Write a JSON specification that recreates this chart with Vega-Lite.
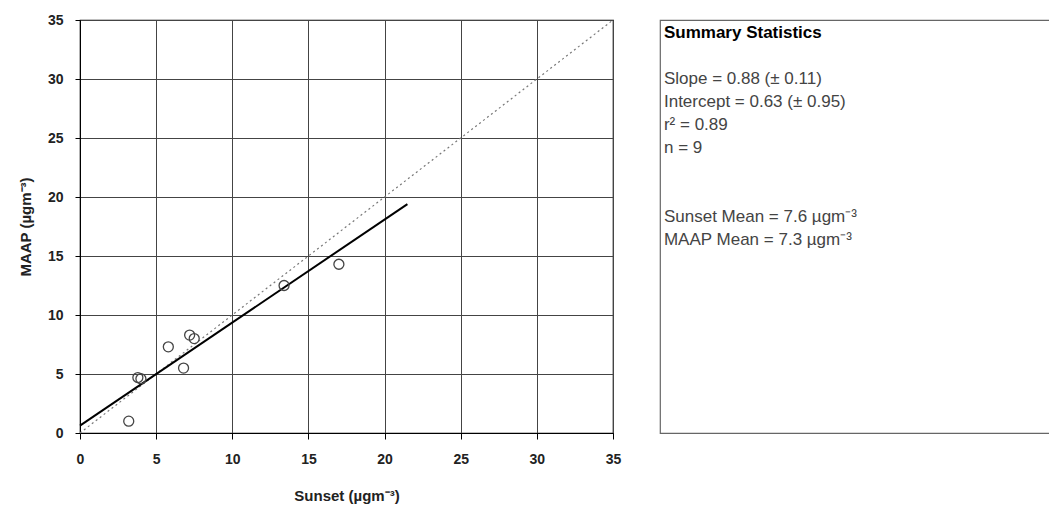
{
  "$schema": "https://vega.github.io/schema/vega-lite/v6.json",
  "background": "white",
  "padding": {"left": 17, "top": 12, "right": 0, "bottom": 0},
  "config": {
    "font": "Liberation Sans",
    "concat": {"spacing": 37},
    "axis": {
      "labelFont": "Liberation Sans",
      "labelFontSize": 14,
      "labelFontWeight": "bold",
      "labelColor": "#222",
      "titleFont": "Liberation Sans",
      "titleFontSize": 15,
      "titleFontWeight": "bold",
      "titleColor": "#222",
      "domainColor": "#000",
      "tickColor": "#000",
      "gridColor": "#444",
      "gridWidth": 1,
      "gridOpacity": 1
    }
  },
  "datasets": {
    "points": [
      {"sunset": 3.2, "maap": 1.0},
      {"sunset": 3.8, "maap": 4.7},
      {"sunset": 4.0, "maap": 4.6},
      {"sunset": 5.8, "maap": 7.3},
      {"sunset": 6.8, "maap": 5.5},
      {"sunset": 7.2, "maap": 8.3},
      {"sunset": 7.5, "maap": 8.0},
      {"sunset": 13.4, "maap": 12.5},
      {"sunset": 17.0, "maap": 14.3}
    ],
    "fit": [
      {"sunset": 0, "maap": 0.63},
      {"sunset": 21.5, "maap": 19.4}
    ],
    "oneToOne": [
      {"sunset": 0, "maap": 0},
      {"sunset": 35, "maap": 35}
    ],
    "stats": [
      {"line": 1, "label": "Summary Statistics", "kind": "title"},
      {"line": 3, "label": "Slope = 0.88 (± 0.11)", "kind": "body"},
      {"line": 4, "label": "Intercept = 0.63 (± 0.95)", "kind": "body"},
      {"line": 5, "label": "r² = 0.89", "kind": "body"},
      {"line": 6, "label": "n = 9", "kind": "body"},
      {"line": 9, "label": "Sunset Mean = 7.6 µgm⁻³", "kind": "body"},
      {"line": 10, "label": "MAAP Mean = 7.3 µgm⁻³", "kind": "body"}
    ]
  },
  "hconcat": [
    {
      "width": 533,
      "height": 413,
      "view": {"stroke": "#000", "strokeWidth": 1.2},
      "encoding": {
        "x": {
          "field": "sunset",
          "type": "quantitative",
          "scale": {"domain": [0, 35], "nice": false, "zero": false},
          "axis": {
            "title": "Sunset (µgm⁻³)",
            "values": [0, 5, 10, 15, 20, 25, 30, 35],
            "tickSize": 6,
            "labelPadding": 13,
            "titlePadding": 22,
            "labelFlush": false
          }
        },
        "y": {
          "field": "maap",
          "type": "quantitative",
          "scale": {"domain": [0, 35], "nice": false, "zero": false},
          "axis": {
            "title": "MAAP (µgm⁻³)",
            "values": [0, 5, 10, 15, 20, 25, 30, 35],
            "tickSize": 5,
            "labelPadding": 12,
            "titlePadding": 14,
            "labelFlush": false
          }
        }
      },
      "layer": [
        {
          "data": {"name": "oneToOne"},
          "mark": {"type": "line", "color": "#777", "strokeDash": [2, 3], "strokeWidth": 1.2}
        },
        {
          "data": {"name": "fit"},
          "mark": {"type": "line", "color": "#000", "strokeWidth": 2}
        },
        {
          "data": {"name": "points"},
          "mark": {"type": "point", "shape": "circle", "filled": false, "size": 100, "color": "#444", "strokeWidth": 1.3, "opacity": 1}
        }
      ]
    },
    {
      "width": 400,
      "height": 413,
      "view": {"stroke": "#666", "strokeWidth": 1.2},
      "data": {"name": "stats"},
      "encoding": {
        "x": {"datum": 0, "type": "quantitative", "scale": {"domain": [-1, 100]}, "axis": null},
        "y": {"field": "line", "type": "quantitative", "scale": {"domain": [0.43, 18.43], "reverse": true, "nice": false, "zero": false}, "axis": null},
        "text": {"field": "label", "type": "nominal"}
      },
      "layer": [
        {
          "transform": [{"filter": "datum.kind === 'title'"}],
          "mark": {"type": "text", "align": "left", "baseline": "middle", "font": "Liberation Sans", "fontSize": 17, "fontWeight": "bold", "color": "#000"}
        },
        {
          "transform": [{"filter": "datum.kind === 'body'"}],
          "mark": {"type": "text", "align": "left", "baseline": "middle", "font": "Liberation Sans", "fontSize": 17, "color": "#444"}
        }
      ]
    }
  ]
}
